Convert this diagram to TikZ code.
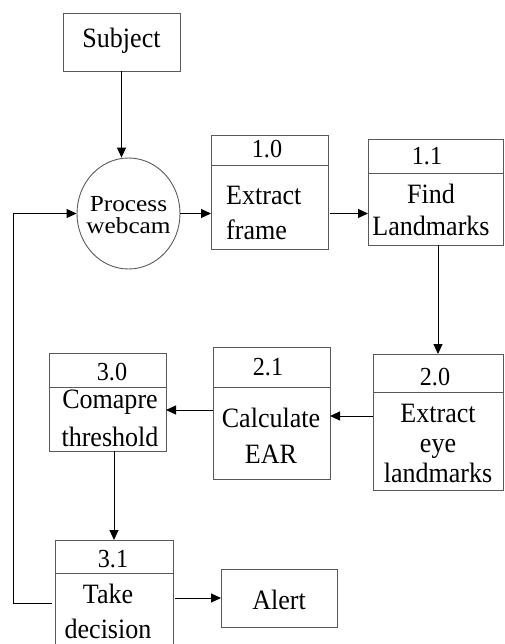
\documentclass[tikz,border=0pt]{standalone}
\usepackage{fontspec}
\setmainfont{Liberation Serif}
\newfontfamily\boxfont[FakeStretch=0.93]{Liberation Serif}
\newfontfamily\circfont[FakeStretch=1.1]{Liberation Serif}
\usetikzlibrary{arrows.meta,shapes.geometric}
\begin{document}
\begin{tikzpicture}[x=1pt,y=-1pt,
  boxshape/.style={draw=black!65,line width=0.9pt,rectangle,inner sep=0pt,outer sep=0pt},
  divline/.style={draw=black!65,line width=0.9pt},
  txt/.style={font=\boxfont\fontsize{28}{35}\selectfont,inner sep=0pt,align=center},
  num/.style={font=\boxfont\fontsize{26}{30}\selectfont,inner sep=0pt,anchor=base},
  arr/.style={-{Triangle[length=10pt,width=9pt]},line width=1pt,draw=black}]
\useasboundingbox (0,0) rectangle (504,644);
\clip (0,0) rectangle (504,644);

% Subject
\node[boxshape,minimum width=117pt,minimum height=58pt] (subj) at (121.5,42) {};
\node[txt,anchor=base] (subjt) at (121.5,48) {Subject};

% Process webcam
\node[draw=black!65,line width=0.9pt,ellipse,minimum width=103pt,minimum height=111pt,inner sep=0pt] (pw) at (128.5,213.5) {};
\node[font=\circfont\fontsize{23}{22}\selectfont,align=center,inner sep=0pt] (pwt) at (128.5,215) {Process\\webcam};

% 1.0
\node[boxshape,minimum width=117pt,minimum height=114pt] (b10) at (269.5,192) {};
\draw[divline] (b10.west |- 0,165) -- (b10.east |- 0,165);
\node[num] (n10) at (267,158) {1.0};
\node[txt,align=left,anchor=west] (t10) at (226,213) {Extract\\frame};

% 1.1
\node[boxshape,minimum width=135pt,minimum height=106pt] (b11) at (435.5,192) {};
\draw[divline] (b11.west |- 0,173) -- (b11.east |- 0,173);
\node[num] (n11) at (427,165) {1.1};
\node[txt,font=\boxfont\fontsize{28}{32}\selectfont] (t11) at (431,210) {Find\\Landmarks};

% 2.0
\node[boxshape,minimum width=130pt,minimum height=136pt] (b20) at (438,422) {};
\draw[divline] (b20.west |- 0,392) -- (b20.east |- 0,392);
\node[num] (n20) at (435,385) {2.0};
\node[txt,font=\boxfont\fontsize{28}{30}\selectfont] (t20) at (438,443) {Extract\\eye\\landmarks};

% 2.1
\node[boxshape,minimum width=117pt,minimum height=132pt] (b21) at (271.5,413) {};
\draw[divline] (b21.west |- 0,387) -- (b21.east |- 0,387);
\node[num] (n21) at (268,375) {2.1};
\node[txt,font=\boxfont\fontsize{28}{36}\selectfont] (t21) at (271,436) {Calculate\\EAR};

% 3.0
\node[boxshape,minimum width=117pt,minimum height=98pt] (b30) at (107.5,402) {};
\draw[divline] (b30.west |- 0,387) -- (b30.east |- 0,387);
\node[num] (n30) at (112,380) {3.0};
\node[txt,font=\boxfont\fontsize{28}{38}\selectfont] (t30) at (110,418) {Comapre\\threshold};

% 3.1
\node[boxshape,minimum width=118pt,minimum height=120pt] (b31) at (114,600) {};
\draw[divline] (b31.west |- 0,573) -- (b31.east |- 0,573);
\node[num] (n31) at (113,567) {3.1};
\node[txt] (t31) at (108,611) {Take\\decision};

% Alert
\node[boxshape,minimum width=116pt,minimum height=58pt] (alert) at (279,598) {};
\node[txt,anchor=base] (alertt) at (279,609) {Alert};

% connectors
\draw[arr] (subj.south) -- (subj.south |- pw.north);
\draw[arr] (pw.east) -- (b10.west |- pw.east);
\draw[arr] ([xshift=2pt]b10.east |- pw.east) -- (b11.west |- pw.east);
\draw[arr] (b20.north |- b11.south) -- (b20.north);
\draw[arr] ([yshift=6pt]b20.west) -- ([yshift=6pt]b20.west -| b21.east);
\draw[arr] ([yshift=3pt]b21.west) -- ([yshift=3pt]b21.west -| b30.east);
\draw[arr] (b31.north |- b30.south) -- (b31.north);
\draw[arr] ([xshift=2pt]b31.east |- alert.west) -- (alert.west);
\draw[arr] ([xshift=-3pt,yshift=-3pt]b31.west) -- ([yshift=-3pt]b31.west -| 13,0) |- (pw.west);
\end{tikzpicture}
\end{document}
